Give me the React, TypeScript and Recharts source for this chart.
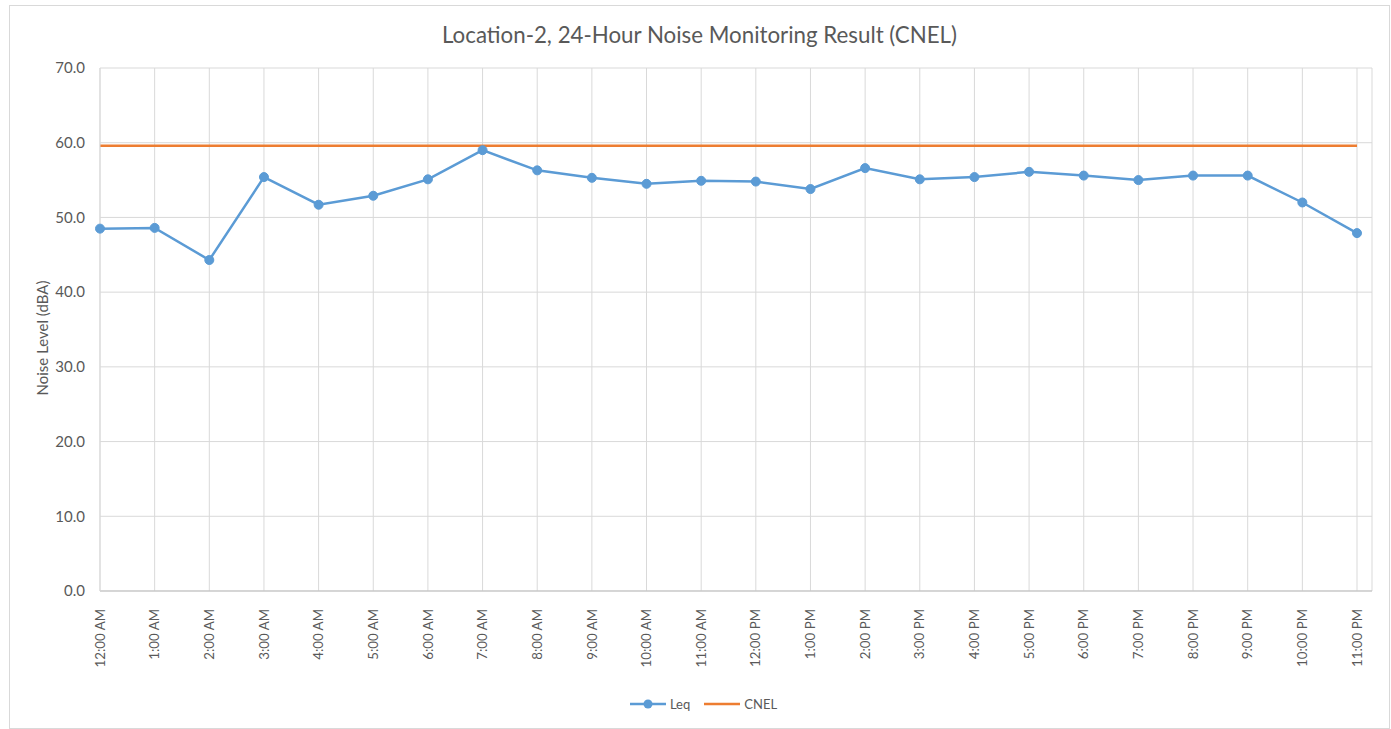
import React from 'react';
import { LineChart, Line, XAxis, YAxis, CartesianGrid, Legend } from 'recharts';

const hours = [
  '12:00 AM', '1:00 AM', '2:00 AM', '3:00 AM', '4:00 AM', '5:00 AM', '6:00 AM', '7:00 AM',
  '8:00 AM', '9:00 AM', '10:00 AM', '11:00 AM', '12:00 PM', '1:00 PM', '2:00 PM', '3:00 PM',
  '4:00 PM', '5:00 PM', '6:00 PM', '7:00 PM', '8:00 PM', '9:00 PM', '10:00 PM', '11:00 PM',
];
const leq = [
  48.5, 48.6, 44.3, 55.4, 51.7, 52.9, 55.1, 59.0,
  56.3, 55.3, 54.5, 54.9, 54.8, 53.8, 56.6, 55.1,
  55.4, 56.1, 55.6, 55.0, 55.6, 55.6, 52.0, 47.9,
];
const cnel = 59.6;
const yTicks = [0, 10, 20, 30, 40, 50, 60, 70];

const data = hours.map((h, i) => ({ hour: h, Leq: leq[i], CNEL: cnel }));

const FONT = 'Lato, "Open Sans", sans-serif';
const TEXT = '#595959';

const XTick = (props: any) => {
  const { x, y, payload } = props;
  return (
    <text
      x={x}
      y={y + 10}
      dy="0.35em"
      transform={`rotate(-90, ${x}, ${y + 10})`}
      textAnchor="end"
      fill={TEXT}
      fontSize={13.3}
      fontFamily={FONT}
    >
      {payload.value}
    </text>
  );
};

const YLabel = () => (
  <text
    x={33}
    y={332}
    dy="0.35em"
    transform="rotate(-90, 33, 332)"
    textAnchor="middle"
    fill={TEXT}
    fontSize={15}
    fontFamily={FONT}
  >
    Noise Level (dBA)
  </text>
);

const LegendContent = () => (
  <div style={{ display: 'flex', justifyContent: 'center', alignItems: 'center', height: 20, fontFamily: FONT, fontSize: 13, color: TEXT, paddingLeft: 8 }}>
    <svg width={36} height={12} style={{ marginRight: 4 }}>
      <line x1={0} y1={6} x2={36} y2={6} stroke="#5B9BD5" strokeWidth={2.5} />
      <circle cx={18} cy={6} r={4.5} fill="#5B9BD5" />
    </svg>
    <span style={{ marginRight: 14 }}>Leq</span>
    <svg width={36} height={12} style={{ marginRight: 4 }}>
      <line x1={0} y1={6} x2={36} y2={6} stroke="#ED7D31" strokeWidth={2.5} />
    </svg>
    <span>CNEL</span>
  </div>
);

export default function App() {
  return (
    <div
      style={{
        position: 'absolute',
        left: 9,
        top: 5,
        width: 1379,
        height: 722,
        border: '1px solid #d9d9d9',
        background: '#fff',
      }}
    >
      <div
        style={{
          position: 'absolute',
          top: 16,
          left: 0,
          width: '100%',
          textAlign: 'center',
          fontFamily: FONT,
          fontSize: 22.3,
          lineHeight: '26px',
          color: TEXT,
        }}
      >
        Location-2, 24-Hour Noise Monitoring Result (CNEL)
      </div>
      <LineChart
        width={1379}
        height={722}
        data={data}
        margin={{ top: 62, right: 17, bottom: 97, left: 0 }}
      >
        <CartesianGrid stroke="#d9d9d9" strokeWidth={1} />
        <XAxis
          dataKey="hour"
          interval={0}
          tick={<XTick />}
          tickLine={false}
          axisLine={{ stroke: '#bfbfbf' }}
          padding={{ left: 0, right: 15 }}
          height={20}
        />
        <YAxis
          domain={[0, 70]}
          ticks={yTicks}
          tickFormatter={(v: number) => v.toFixed(1)}
          tick={{ fill: TEXT, fontSize: 15, fontFamily: FONT }}
          tickLine={false}
          axisLine={{ stroke: '#d9d9d9' }}
          width={90}
          tickMargin={9}
          label={<YLabel />}
        />
        <Legend
          content={<LegendContent />}
          wrapperStyle={{ top: 688, bottom: 'auto', left: 0, width: 1379 }}
        />
        <Line
          dataKey="CNEL"
          stroke="#ED7D31"
          strokeWidth={2.5}
          dot={false}
          activeDot={false}
          isAnimationActive={false}
        />
        <Line
          dataKey="Leq"
          stroke="#5B9BD5"
          strokeWidth={2.5}
          dot={{ r: 4.5, fill: '#5B9BD5', stroke: '#5B9BD5', strokeWidth: 1 }}
          activeDot={false}
          isAnimationActive={false}
        />
      </LineChart>
    </div>
  );
}
